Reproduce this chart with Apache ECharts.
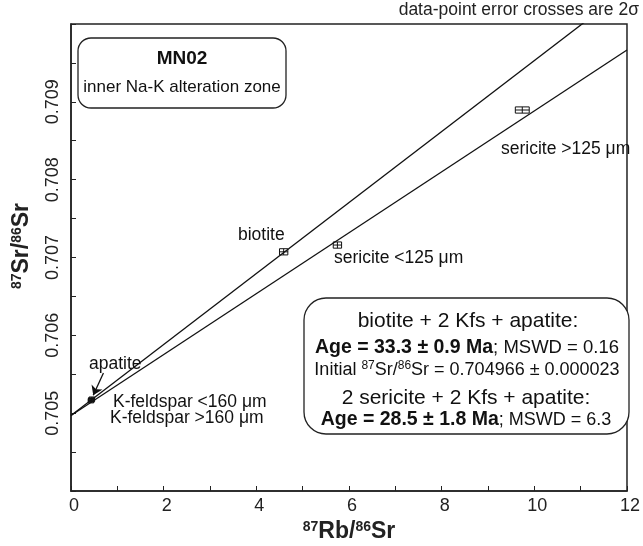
<!DOCTYPE html>
<html>
<head>
<meta charset="utf-8">
<script src="https://cdn.jsdelivr.net/npm/echarts@6/dist/echarts.min.js"></script>
<style>html,body{margin:0;padding:0;background:#fff}#c{width:643px;height:546px}</style>
</head>
<body>
<div id="c"></div>
<script>
// ---- data ----
const pointNames = ['apatite', 'K-feldspar >160 μm', 'K-feldspar <160 μm', 'biotite', 'sericite <125 μm', 'sericite >125 μm'];
const rbSr = [0.43, 0.44, 0.45, 4.59, 5.75, 9.74];
const srSr = [0.70516, 0.70517, 0.70518, 0.707073, 0.70716, 0.708895];
const errX = [0.06, 0.06, 0.06, 0.09, 0.09, 0.15];
const errY = [0.000028, 0.000028, 0.000028, 0.00004, 0.00004, 0.00004];
// isochron lines (endpoints)
const isoBiotiteX = [0, 12];
const isoBiotiteY = [0.70497, 0.710442];
const isoSericiteX = [0, 12];
const isoSericiteY = [0.70497, 0.709666];
// arrow from "apatite" label to point
const arrowX = [0.70, 0.48];
const arrowY = [0.705516, 0.70523];
// axes
const xMin = 0, xMax = 12, xStep = 1;
const yMin = 0.704, yMax = 0.710, yStep = 0.0005;
const xTickLabels = ['0', '2', '4', '6', '8', '10', '12'];
const yTickLabels = ['0.705', '0.706', '0.707', '0.708', '0.709'];

const FONT = "'Liberation Sans', Arial, sans-serif";
const chart = echarts.init(document.getElementById('c'), null, {renderer: 'canvas'});

const errData = rbSr.map((x, i) => [x, srSr[i], errX[i], errY[i]]);

function renderErr(params, api) {
  const x = api.value(0), y = api.value(1), ex = api.value(2), ey = api.value(3);
  const l = api.coord([x - ex, y]), r = api.coord([x + ex, y]);
  const t = api.coord([x, y + ey]), b = api.coord([x, y - ey]);
  const hh = (b[1] - t[1]) / 2, hw = (r[0] - l[0]) / 2;
  const st = {stroke: '#111', lineWidth: 1};
  const seg = (x1, y1, x2, y2) => ({type: 'line', shape: {x1, y1, x2, y2}, style: st});
  const cy = l[1], cx = t[0];
  return {type: 'group', children: [
    seg(l[0], cy, r[0], cy),
    seg(cx, t[1], cx, b[1]),
    seg(l[0], cy - hh, l[0], cy + hh),
    seg(r[0], cy - hh, r[0], cy + hh),
    seg(cx - hw, t[1], cx + hw, t[1]),
    seg(cx - hw, b[1], cx + hw, b[1])
  ]};
}

const LBL = '17.5px ' + FONT;
const option = {
  animation: false,
  backgroundColor: '#fff',
  grid: {left: 71, right: 10, top: 24, bottom: 55, show: true, borderColor: '#222', borderWidth: 1.5, backgroundColor: 'transparent'},
  xAxis: {
    type: 'value', min: xMin, max: xMax, interval: xStep,
    axisLine: {show: true, onZero: false, lineStyle: {color: '#222', width: 1.5}},
    axisTick: {show: true, inside: true, length: 5, lineStyle: {color: '#222'}},
    splitLine: {show: false},
    axisLabel: {
      color: '#222', fontSize: 18, fontFamily: FONT, margin: 6, padding: [0, 0, 0, 6],
      formatter: v => { const s = String(Math.round(v)); return (Math.round(v) % 2 === 0 && xTickLabels.includes(s)) ? s : ''; }
    }
  },
  yAxis: {
    type: 'value', min: yMin, max: yMax, interval: yStep,
    axisLine: {show: true, onZero: false, lineStyle: {color: '#222', width: 1.5}},
    axisTick: {show: true, inside: true, length: 5, lineStyle: {color: '#222'}},
    splitLine: {show: false},
    axisLabel: {
      color: '#222', fontSize: 18, fontFamily: FONT, rotate: 90, margin: 9,
      formatter: v => { const s = v.toFixed(3); return (Math.abs(v * 1000 - Math.round(v * 1000)) < 1e-6 && yTickLabels.includes(s)) ? s : ''; }
    }
  },
  series: [
    {type: 'line', data: isoBiotiteX.map((x, i) => [x, isoBiotiteY[i]]), symbol: 'none', lineStyle: {color: '#111', width: 1.3}, clip: true, silent: true},
    {type: 'line', data: isoSericiteX.map((x, i) => [x, isoSericiteY[i]]), symbol: 'none', lineStyle: {color: '#111', width: 1.3}, clip: true, silent: true},
    {type: 'lines', coordinateSystem: 'cartesian2d', polyline: false,
      data: [{coords: [[arrowX[0], arrowY[0]], [arrowX[1], arrowY[1]]]}],
      symbol: ['none', 'arrow'], symbolSize: 9,
      lineStyle: {color: '#111', width: 1.3, opacity: 1}, silent: true},
    {type: 'custom', data: errData, renderItem: renderErr, clip: true, silent: true}
  ],
  graphic: [
    // top note
    {type: 'text', right: 4, top: 1, style: {text: 'data-point error crosses are 2σ', font: '17.5px ' + FONT, fill: '#222'}},
    // y axis title
    {type: 'text', x: 22, y: 246, rotation: Math.PI / 2,
      style: {text: '{s|87}{b|Sr/}{s|86}{b|Sr}', align: 'center', verticalAlign: 'middle',
        rich: {s: {fontSize: 14, fontWeight: 'bold', fontFamily: FONT, verticalAlign: 'top', padding: [0, 0, 10, 0], fill: '#222'},
               b: {fontSize: 23, fontWeight: 'bold', fontFamily: FONT, fill: '#222'}}}},
    // x axis title
    {type: 'text', x: 349, y: 532,
      style: {text: '{s|87}{b|Rb/}{s|86}{b|Sr}', align: 'center', verticalAlign: 'middle',
        rich: {s: {fontSize: 14, fontWeight: 'bold', fontFamily: FONT, verticalAlign: 'top', padding: [0, 0, 10, 0], fill: '#222'},
               b: {fontSize: 23, fontWeight: 'bold', fontFamily: FONT, fill: '#222'}}}},
    // box 1
    {type: 'rect', shape: {x: 78, y: 38, width: 208, height: 70, r: 13}, style: {fill: '#fff', stroke: '#222', lineWidth: 1.3}},
    {type: 'text', x: 182, y: 59, style: {text: 'MN02', font: 'bold 19px ' + FONT, fill: '#111', align: 'center', verticalAlign: 'middle'}},
    {type: 'text', x: 182, y: 87, style: {text: 'inner Na-K alteration zone', font: '17px ' + FONT, fill: '#111', align: 'center', verticalAlign: 'middle'}},
    // box 2
    {type: 'rect', shape: {x: 304, y: 298, width: 325, height: 136, r: 22}, style: {fill: '#fff', stroke: '#222', lineWidth: 1.3}},
    {type: 'text', x: 468, y: 321, style: {text: 'biotite + 2 Kfs + apatite:', font: '21px ' + FONT, fill: '#111', align: 'center', verticalAlign: 'middle'}},
    {type: 'text', x: 467, y: 348, style: {text: '{b|Age = 33.3 ± 0.9 Ma}{n|; MSWD = 0.16}', align: 'center', verticalAlign: 'middle',
      rich: {b: {font: 'bold 19.5px ' + FONT, fill: '#111'}, n: {font: '18.5px ' + FONT, fill: '#111'}}}},
    {type: 'text', x: 467, y: 370, style: {text: '{n|Initial }{s|87}{n|Sr/}{s|86}{n|Sr = 0.704966 ± 0.000023}', align: 'center', verticalAlign: 'middle',
      rich: {n: {font: '18px ' + FONT, fill: '#111'}, s: {font: '12px ' + FONT, fill: '#111', verticalAlign: 'top', padding: [0, 0, 8, 0]}}}},
    {type: 'text', x: 466, y: 398, style: {text: '2 sericite + 2 Kfs + apatite:', font: '21px ' + FONT, fill: '#111', align: 'center', verticalAlign: 'middle'}},
    {type: 'text', x: 466, y: 420, style: {text: '{b|Age = 28.5 ± 1.8 Ma}{n|; MSWD = 6.3}', align: 'center', verticalAlign: 'middle',
      rich: {b: {font: 'bold 19.5px ' + FONT, fill: '#111'}, n: {font: '18px ' + FONT, fill: '#111'}}}},
    // point labels
    {type: 'text', x: 238, y: 235, style: {text: 'biotite', font: LBL, fill: '#111', verticalAlign: 'middle'}},
    {type: 'text', x: 334, y: 258, style: {text: 'sericite <125 μm', font: LBL, fill: '#111', verticalAlign: 'middle'}},
    {type: 'text', x: 501, y: 149, style: {text: 'sericite >125 μm', font: LBL, fill: '#111', verticalAlign: 'middle'}},
    {type: 'text', x: 89, y: 364, style: {text: 'apatite', font: LBL, fill: '#111', verticalAlign: 'middle'}},
    {type: 'text', x: 113, y: 402, style: {text: 'K-feldspar <160 μm', font: LBL, fill: '#111', verticalAlign: 'middle'}},
    {type: 'text', x: 110, y: 418, style: {text: 'K-feldspar >160 μm', font: LBL, fill: '#111', verticalAlign: 'middle'}}
  ]
};
chart.setOption(option);
</script>
</body>
</html>
